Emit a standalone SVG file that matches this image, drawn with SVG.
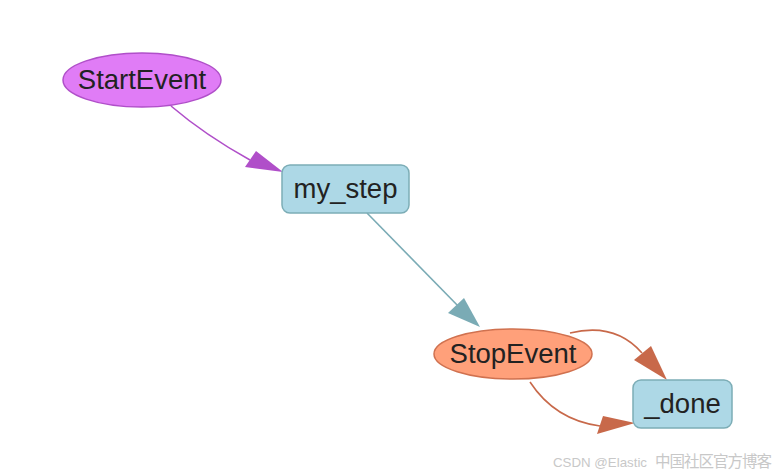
<svg xmlns="http://www.w3.org/2000/svg" width="780" height="476" viewBox="0 0 780 476">
<style>
.lbl{font-family:"Liberation Sans",Arial,sans-serif;font-size:27.5px;fill:#222;text-anchor:middle}
.ev1{fill:#e07cf6;stroke:#b04fc9;stroke-width:1.5}
.ev2{fill:#ffa07a;stroke:#d0714f;stroke-width:1.5}
.step{fill:#add8e6;stroke:#7cadb6;stroke-width:1.5}
.e{fill:none;stroke-width:1.6}
.wm{font-family:"Liberation Sans","Noto Sans CJK SC",sans-serif;font-size:13px;fill:#c8c8c8}
</style>
<rect width="780" height="476" fill="#fff"/>
<g id="connectors">
<path class="e" d="M171,106 Q205,135 250,160" stroke="#b04fc9"/>
<polygon points="283,172 245,167 256,151" fill="#b04fc9"/>
<path class="e" d="M367,213 L462,310" stroke="#7aabb5"/>
<polygon points="480,327 448,313 464,298" fill="#7aabb5"/>
<path class="e" d="M570,333 Q615,322 642,353" stroke="#c8694a"/>
<polygon points="667,380 634,360 651,346" fill="#c8694a"/>
<path class="e" d="M530,382 Q555,420 600,426" stroke="#c8694a"/>
<polygon points="635,423 597,434 603,416" fill="#c8694a"/>
</g>
<g id="StartEvent">
<ellipse class="ev1" cx="142" cy="80" rx="79" ry="27"/>
<text class="lbl" x="142" y="89">StartEvent</text>
</g>
<g id="my_step">
<rect class="step" x="282" y="165" width="127" height="48" rx="8"/>
<text class="lbl" x="345.5" y="198">my_step</text>
</g>
<g id="StopEvent">
<ellipse class="ev2" cx="513" cy="354" rx="79" ry="25"/>
<text class="lbl" x="513" y="363">StopEvent</text>
</g>
<g id="_done">
<rect class="step" x="633" y="380" width="99" height="48" rx="8"/>
<text class="lbl" x="682.5" y="413">_done</text>
</g>
<text class="wm" x="553" y="467"><tspan textLength="94" lengthAdjust="spacingAndGlyphs">CSDN @Elastic</tspan><tspan x="655" font-size="15.5" textLength="117">中国社区官方博客</tspan></text>
</svg>
